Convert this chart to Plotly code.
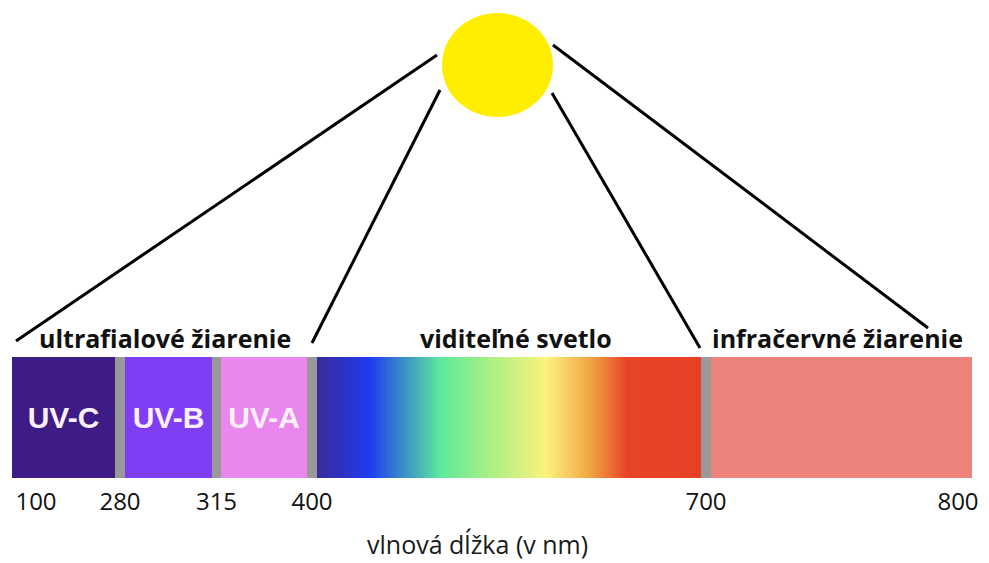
import numpy as np
import plotly.graph_objects as go

# ---------------- data ----------------
band_names = ["UV-C", "UV-B", "UV-A", "visible", "IR"]
band_start_nm = [100, 280, 315, 400, 700]
band_end_nm = [280, 315, 400, 700, 800]
band_labels = ["UV-C", "UV-B", "UV-A", "", ""]
tick_nm = [100, 280, 315, 400, 700, 800]
tick_labels = ["100", "280", "315", "400", "700", "800"]
group_names = ["ultrafialové žiarenie", "viditeľné svetlo", "infračervné žiarenie"]
group_start_nm = [100, 400, 700]
group_end_nm = [400, 700, 800]
visible_nm = list(range(400, 701))
axis_title = "vlnová dĺžka (v nm)"

# ---------------- layout / style constants ----------------
OFF = 8                      # page body margin of the html page
W, H = 989 - OFF, 563 - OFF  # figure size so it fits the window
PLOT_BOTTOM = 483            # page pixel where plot area ends
# piecewise display scale (schematic, not linear in nm)
SCALE_NM = [100, 280, 315, 400, 700, 800]
SCALE_PX = [12, 120, 216.5, 312, 706, 972]
GAP = 9.5
BAR_TOP, BAR_BOT = 357, 478
band_colors = ["#3e1c86", "#7f3ef3", "#ea87ef", None, "#ee837b"]
gap_color = "#999999"
vis_colorscale = [
    [0.000, "#3b2a9b"], [0.137, "#1e3cf0"], [0.320, "#5ce89c"],
    [0.450, "#a8f084"], [0.597, "#fbf27e"], [0.717, "#f0a040"],
    [0.806, "#e84428"], [1.000, "#e84026"],
]
TICK_NUDGE = {100: 24, 800: -14}
GROUP_NUDGE = [3, 7, -2]
SUN = dict(x0=442, x1=553, y0=13, y1=117, color="#ffee00")
RAYS = [  # (start point on sun, target nm, end dx, end y)
    ((437, 55), 100, 4, 341),
    ((440, 90), 400, 0, 343),
    ((552, 93), 700, -6, 348),
    ((553, 45), 800, -44, 328),
]
TITLE_POS = (477, 544)
TEXT_FONT = "Open Sans, DejaVu Sans, sans-serif"


def to_px(nm):
    return float(np.interp(nm, SCALE_NM, SCALE_PX))


fig = go.Figure()
ymid = (BAR_TOP + BAR_BOT) / 2

# visible spectrum gradient (heatmap layer)
vx0 = to_px(400) + GAP / 2
vx1 = to_px(700) - GAP / 2
edges = list(np.linspace(vx0, vx1, len(visible_nm) + 1))
fig.add_trace(go.Heatmap(
    x=edges, y=[BAR_TOP, BAR_BOT], z=[visible_nm],
    colorscale=vis_colorscale, zmin=400, zmax=700, showscale=False, hoverinfo="skip",
))

# gray separators between bands
for nm in band_start_nm[1:]:
    fig.add_trace(go.Bar(
        orientation="h", y=[ymid], base=[to_px(nm) - GAP / 2], x=[GAP],
        width=BAR_BOT - BAR_TOP, marker=dict(color=gap_color, line=dict(width=0)),
        hoverinfo="skip", showlegend=False,
    ))

# solid bands
for name, s, e, col, lab in zip(band_names, band_start_nm, band_end_nm, band_colors, band_labels):
    if col is None:
        continue
    x0 = to_px(s) + (0 if s == band_start_nm[0] else GAP / 2)
    x1 = to_px(e) - (0 if e == band_end_nm[-1] else GAP / 2)
    fig.add_trace(go.Bar(
        orientation="h", y=[ymid], base=[x0], x=[x1 - x0],
        width=BAR_BOT - BAR_TOP, name=name,
        marker=dict(color=col, line=dict(width=0)),
        text=[lab], textposition="inside", insidetextanchor="middle",
        textangle=0, constraintext="none",
        textfont=dict(family="Liberation Sans, Arial, sans-serif", size=30,
                      color="#fbf0fb", weight="bold"),
        hoverinfo="skip", showlegend=False,
    ))

# rays from the sun
for (sx, sy), nm, dx, ey in RAYS:
    fig.add_trace(go.Scatter(
        x=[sx, to_px(nm) + dx], y=[sy, ey], mode="lines",
        line=dict(color="black", width=3), hoverinfo="skip", showlegend=False,
    ))

# sun
fig.add_shape(type="circle", xref="x", yref="y", x0=SUN["x0"], x1=SUN["x1"],
              y0=SUN["y0"], y1=SUN["y1"], fillcolor=SUN["color"], line=dict(width=0),
              layer="above")

# group labels
for g, s, e, dx in zip(group_names, group_start_nm, group_end_nm, GROUP_NUDGE):
    fig.add_annotation(x=(to_px(s) + to_px(e)) / 2 + dx, y=338, text=g, showarrow=False,
                       xref="x", yref="y", xanchor="center", yanchor="middle",
                       font=dict(family=TEXT_FONT, size=25, color="#111111", weight="bold"))

# axis title (below the plot area, paper coordinates of the plot domain)
plot_h = PLOT_BOTTOM - OFF
fig.add_annotation(x=TITLE_POS[0], xref="x",
                   y=(PLOT_BOTTOM - TITLE_POS[1]) / plot_h, yref="paper",
                   text=axis_title, showarrow=False, xanchor="center", yanchor="middle",
                   font=dict(family=TEXT_FONT, size=25, color="#1a1a1a"))

tick_px = [to_px(n) + TICK_NUDGE.get(n, 0) for n in tick_nm]

fig.update_layout(
    width=W, height=H, margin=dict(l=0, r=0, t=0, b=H - plot_h),
    paper_bgcolor="white", plot_bgcolor="white", barmode="overlay", bargap=0,
    showlegend=False,
    xaxis=dict(range=[OFF, OFF + W], tickvals=tick_px, ticktext=tick_labels, ticks="",
               showgrid=False, zeroline=False, showline=False, fixedrange=True,
               tickfont=dict(family=TEXT_FONT, size=24, color="#111111"),
               ticklabelstandoff=2, automargin=False),
    yaxis=dict(range=[PLOT_BOTTOM, OFF], visible=False, showgrid=False, zeroline=False,
               fixedrange=True, automargin=False),
)

fig.write_html("out.html")
